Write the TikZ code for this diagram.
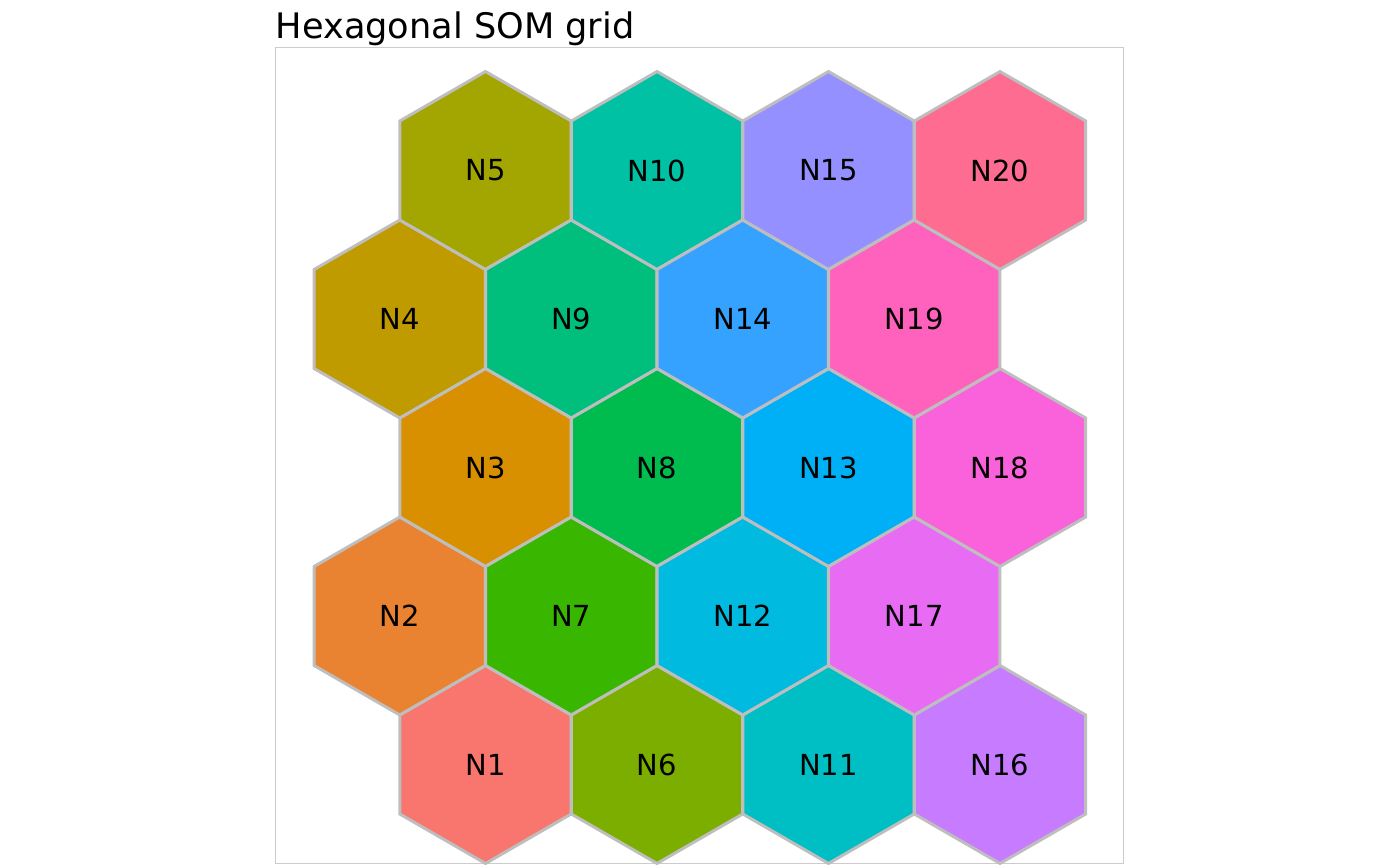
\documentclass[tikz,border=0pt]{standalone}
\usepackage{fontspec}
\setmainfont{DejaVu Sans}
\usetikzlibrary{shapes.geometric}

\begin{document}
\begin{tikzpicture}[x=0.02cm, y=0.02cm]
  % Define colours
  \definecolor{borderColour}{HTML}{BEBEBE}
  \definecolor{frameColour}{HTML}{CCCCCC}

  % Define grid sizes (in pixels)
  \def\hexWidth{171.5}
  \def\rowStep{148.5}

  \tikzset{
    hexcell/.style={regular polygon, regular polygon sides=6, shape border rotate=30,
      minimum size=3.96cm, inner sep=0pt, draw=borderColour, line width=1.7pt,
      font=\fontsize{16.5}{19}\selectfont},
  }

  % Fix the page size
  \useasboundingbox (0,0) rectangle (1400,865);

  % Draw the panel frame
  \draw[frameColour, line width=0.85pt] (275.5,1.5) rectangle (1123.5,817.5);

  % Title
  \node[anchor=base west, inner sep=0pt, font=\fontsize{20}{24}\selectfont] (title) at (275.5,826) {Hexagonal SOM grid};

  % Draw the cells, column by column from the bottom row
  \foreach \n/\hexColour in {1/F8766D, 2/EA8331, 3/D89000, 4/C09B00, 5/A3A500,
      6/7CAE00, 7/39B600, 8/00BB4E, 9/00BF7D, 10/00C1A3,
      11/00BFC4, 12/00BAE0, 13/00B0F6, 14/35A2FF, 15/9590FF,
      16/C77CFF, 17/E76BF3, 18/FA62DB, 19/FF62BC, 20/FF6C91} {
    \pgfmathsetmacro{\col}{int((\n-1)/5)}
    \pgfmathsetmacro{\row}{int(mod(\n-1,5))}
    \pgfmathsetmacro{\xPos}{485.5+\hexWidth*\col-0.5*\hexWidth*mod(\row,2)}
    \pgfmathsetmacro{\yPos}{100.5+\rowStep*\row}
    \definecolor{fillColour}{HTML}{\hexColour}
    \node[hexcell, fill=fillColour] (N\n) at (\xPos,\yPos) {N\n};
  }
\end{tikzpicture}
\end{document}
